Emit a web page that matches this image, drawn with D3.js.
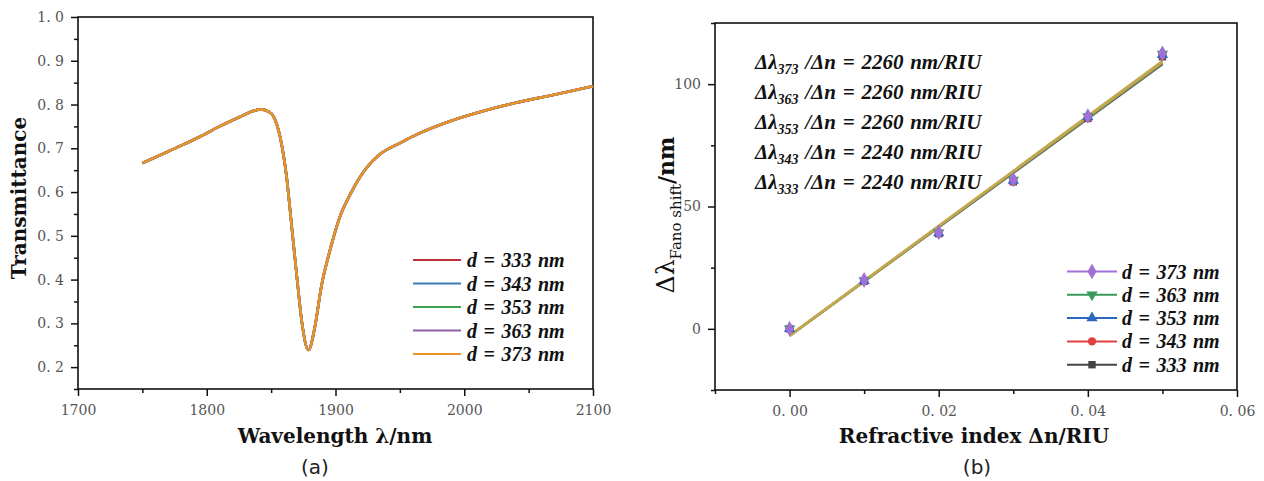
<!DOCTYPE html>
<html>
<head>
<meta charset="utf-8">
<script src="https://cdn.jsdelivr.net/npm/d3@7"></script>
<style>
body { margin: 0; background: #fff; }
svg { display: block; }
svg text { font-family: "Liberation Serif", serif; }
svg text.wide { font-family: "DejaVu Serif", serif; }
svg text.sans { font-family: "DejaVu Sans", sans-serif; }
</style>
</head>
<body>
<svg id="chart" width="1264" height="481"></svg>
<script>
// ---- panel (a) data: the five spectra sit on top of each other ----
var wavelength = [1750, 1765, 1780, 1795, 1810, 1826, 1836, 1842, 1848, 1852,
                  1857, 1862, 1866, 1870, 1874, 1879, 1884, 1889, 1896, 1903,
                  1912, 1924, 1934, 1950, 1965, 1990, 2017, 2040, 2069, 2100];
var transmittance = [0.666, 0.686, 0.706, 0.727, 0.750, 0.772, 0.785, 0.789, 0.784, 0.772,
                     0.726, 0.635, 0.521, 0.406, 0.300, 0.239, 0.292, 0.384, 0.470, 0.540,
                     0.598, 0.655, 0.685, 0.712, 0.734, 0.763, 0.787, 0.804, 0.822, 0.842];
var specLabels = ["d = 333 nm", "d = 343 nm", "d = 353 nm", "d = 363 nm", "d = 373 nm"];
var specColors = ["#c0303a", "#3a78b8", "#3ea050", "#9060a8", "#e8922a"];
var wlTicks = [1700, 1800, 1900, 2000, 2100];
var wlMinor = [1750, 1850, 1950, 2050];
var tTicks = [0.2, 0.3, 0.4, 0.5, 0.6, 0.7, 0.8, 0.9, 1.0];
var tMinor = [0.15, 0.25, 0.35, 0.45, 0.55, 0.65, 0.75, 0.85, 0.95];

// ---- panel (b) data ----
var deltaN = [0, 0.01, 0.02, 0.03, 0.04, 0.05];
var shift333 = [0, 19.5, 38.9, 60.1, 86.0, 111.2];
var shift343 = [0, 19.6, 39.0, 60.3, 86.3, 111.6];
var shift353 = [0, 19.7, 39.2, 60.6, 86.6, 112.0];
var shift363 = [0, 19.8, 39.3, 60.8, 86.8, 112.3];
var shift373 = [0, 20.0, 39.5, 61.0, 87.0, 112.6];
var sensLabels = ["d = 373 nm", "d = 363 nm", "d = 353 nm", "d = 343 nm", "d = 333 nm"];
var sensColors = ["#a070d8", "#3a9a5e", "#2a68c0", "#e04040", "#444444"];
var fitColors = ["#c4a84e", "#b9a24c", "#a89a50", "#6f7d5a", "#4f6272"];
var sensSub = ["373", "363", "353", "343", "333"];
var sensSlope = [2260, 2260, 2260, 2240, 2240];
var nTicks = [0, 0.02, 0.04, 0.06];
var nMinor = [-0.01, 0.01, 0.03, 0.05];
var shiftTicks = [0, 50, 100];
var shiftMinor = [-25, 25, 75, 125];

var svg = d3.select("#chart");

/*
 * draw box + major/minor ticks for one panel
 */
function drawFrame(x, y, xt, xm, yt, ym, fmtX, fmtY) {
    var g = svg.append("g");
    var x0 = x.range()[0], x1 = x.range()[1], y0 = y.range()[0], y1 = y.range()[1];

    g.append("g").attr("transform", "translate(0," + y0 + ")")
        .call(d3.axisBottom(x).tickValues(xm).tickSize(4).tickSizeOuter(0).tickFormat(""));
    g.append("g").attr("transform", "translate(0," + y0 + ")")
        .call(d3.axisBottom(x).tickValues(xt).tickSize(7).tickSizeOuter(0).tickPadding(9).tickFormat(fmtX));
    g.append("g").attr("transform", "translate(" + x0 + ",0)")
        .call(d3.axisLeft(y).tickValues(ym).tickSize(4).tickSizeOuter(0).tickFormat(""));
    g.append("g").attr("transform", "translate(" + x0 + ",0)")
        .call(d3.axisLeft(y).tickValues(yt).tickSize(7).tickSizeOuter(0).tickPadding(7).tickFormat(fmtY));

    g.selectAll("path.domain").remove();
    g.selectAll(".tick line").attr("stroke", "#111").attr("stroke-width", 1.5);
    g.selectAll(".tick text")
        .attr("class", "wide")
        .attr("font-size", 14)
        .attr("fill", "#555");

    g.append("rect")
        .attr("x", x0).attr("y", y1)
        .attr("width", x1 - x0).attr("height", y0 - y1)
        .attr("fill", "none")
        .attr("stroke", "#111")
        .attr("stroke-width", 1.6);
    return g;
}

// spaced decimals like "0. 9"
function spaced(f) {
    return function(d) { return d3.format(f)(d).replace(".", ". "); };
}

// bold italic label used by legends / annotations
function italicText(x, y) {
    return svg.append("text")
        .attr("x", x).attr("y", y)
        .attr("font-size", 20)
        .attr("font-weight", "bold")
        .attr("font-style", "italic")
        .attr("word-spacing", 1.5)
        .attr("fill", "#111");
}

// bold axis title
function title(txt, x, y, rot) {
    return svg.append("text")
        .attr("class", "wide")
        .attr("transform", "translate(" + x + "," + y + ")" + (rot ? " rotate(-90)" : ""))
        .attr("text-anchor", "middle")
        .attr("font-size", 20)
        .attr("font-weight", "bold")
        .attr("fill", "#111")
        .text(txt);
}

/* ================= panel (a) ================= */
var xA = d3.scaleLinear().domain([1700, 2100]).range([78, 593]);
var yA = d3.scaleLinear().domain([0.15, 1.0]).range([389, 17]);

drawFrame(xA, yA, wlTicks, wlMinor, tTicks, tMinor, d3.format("d"), spaced(".1f"));

var lineA = d3.line()
    .x(function(d, i) { return xA(wavelength[i]); })
    .y(function(d) { return yA(d); })
    .curve(d3.curveMonotoneX);

specColors.forEach(function(c) {
    svg.append("path")
        .datum(transmittance)
        .attr("d", lineA)
        .attr("fill", "none")
        .attr("stroke", c)
        .attr("stroke-width", 2.6);
});

// legend (a)
specLabels.forEach(function(lab, i) {
    var ly = 260 + i * 23.5;
    svg.append("line")
        .attr("x1", 413).attr("x2", 461)
        .attr("y1", ly).attr("y2", ly)
        .attr("stroke", specColors[i])
        .attr("stroke-width", 2.2);
    italicText(467, ly + 7).text(lab);
});

title("Transmittance", 26, 198, true);
title("Wavelength \u03bb/nm", 335, 443, false);

svg.append("text")
    .attr("class", "sans")
    .attr("x", 315).attr("y", 474)
    .attr("text-anchor", "middle")
    .attr("font-size", 20)
    .attr("fill", "#222")
    .text("(a)");

/* ================= panel (b) ================= */
var xB = d3.scaleLinear().domain([-0.01, 0.06]).range([715, 1237]);
var yB = d3.scaleLinear().domain([-25, 125]).range([390, 23]);

drawFrame(xB, yB, nTicks, nMinor, shiftTicks, shiftMinor, spaced(".2f"), d3.format("d"));

var shifts = [shift373, shift363, shift353, shift343, shift333];
var symbols = [d3.symbolDiamond, d3.symbolTriangle, d3.symbolTriangle, d3.symbolCircle, d3.symbolSquare];
var flips = [0, 180, 0, 0, 0];

// least-squares fit line for one series
function fit(ys) {
    var mx = d3.mean(deltaN), my = d3.mean(ys), sxy = 0, sxx = 0;
    deltaN.forEach(function(x, i) {
        sxy += (x - mx) * (ys[i] - my);
        sxx += (x - mx) * (x - mx);
    });
    var k = sxy / sxx;
    return [[deltaN[0], my + k * (deltaN[0] - mx)],
            [deltaN[deltaN.length - 1], my + k * (deltaN[deltaN.length - 1] - mx)]];
}

function marker(i) {
    return d3.symbol().type(symbols[i]).size(i === 0 ? 70 : 55)();
}

// fits first (bottom series drawn first), then markers
for (var i = shifts.length - 1; i >= 0; i--) {
    svg.append("path")
        .datum(fit(shifts[i]))
        .attr("d", d3.line().x(function(d) { return xB(d[0]); }).y(function(d) { return yB(d[1]); }))
        .attr("stroke", fitColors[i])
        .attr("stroke-width", 2.4)
        .attr("fill", "none");
}
for (var j = shifts.length - 1; j >= 0; j--) {
    (function(i) {
        svg.append("g").selectAll("path")
            .data(shifts[i])
            .enter().append("path")
            .attr("d", marker(i))
            .attr("transform", function(d, k) {
                return "translate(" + xB(deltaN[k]) + "," + yB(d) + ") rotate(" + flips[i] + ")";
            })
            .attr("fill", sensColors[i]);
    })(j);
}

// legend (b)
sensLabels.forEach(function(lab, i) {
    var ly = 271.5 + i * 23.3;
    svg.append("line")
        .attr("x1", 1067).attr("x2", 1117)
        .attr("y1", ly).attr("y2", ly)
        .attr("stroke", sensColors[i])
        .attr("stroke-width", 2);
    svg.append("path")
        .attr("d", marker(i))
        .attr("transform", "translate(1092," + ly + ") rotate(" + flips[i] + ")")
        .attr("fill", sensColors[i]);
    italicText(1122, ly + 7).text(lab);
});

// sensitivity annotations
sensSub.forEach(function(s, i) {
    var t = italicText(755, 69 + i * 30).attr("font-size", 21);
    t.append("tspan").text("\u0394\u03bb");
    t.append("tspan").attr("dy", 5).attr("font-size", 14).text(s);
    t.append("tspan").attr("dy", -5).text(" /\u0394n = " + sensSlope[i] + " nm/RIU");
});

var yl = svg.append("text")
    .attr("class", "wide")
    .attr("transform", "translate(674,215) rotate(-90)")
    .attr("text-anchor", "middle")
    .attr("font-size", 25)
    .attr("fill", "#111");
yl.append("tspan").text("\u0394\u03bb");
yl.append("tspan").attr("dy", 7).attr("font-size", 15).text("Fano shift");
yl.append("tspan").attr("dy", -7).attr("font-weight", "bold").attr("font-size", 22).text("/nm");

title("Refractive index \u0394n/RIU", 974, 443, false);

svg.append("text")
    .attr("class", "sans")
    .attr("x", 977).attr("y", 474)
    .attr("text-anchor", "middle")
    .attr("font-size", 20)
    .attr("fill", "#222")
    .text("(b)");
</script>
</body>
</html>
